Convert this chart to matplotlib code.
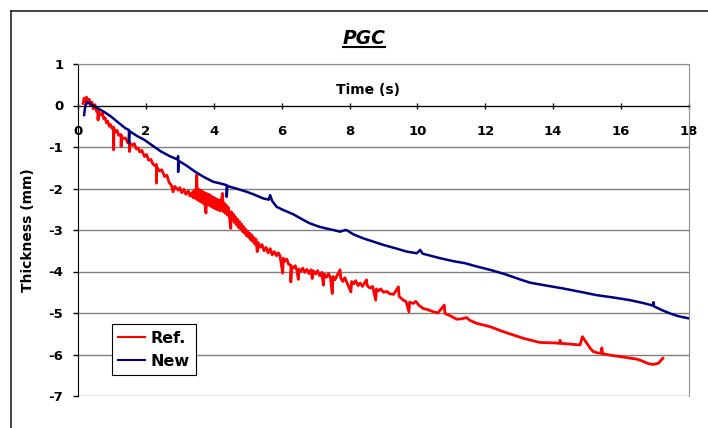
import matplotlib
matplotlib.use("Agg")
import matplotlib.pyplot as plt
from matplotlib.lines import Line2D
import numpy as np

plt.rcParams['font.family'] = ['DejaVu Sans']
plt.rcParams['font.weight'] = 'bold'
plt.rcParams['axes.unicode_minus'] = False

# Ref. series (red) as (time s, thickness mm); spikes kept as extra points
ref_pts = [
    (0.15, 0.05), (0.18, 0.18), (0.22, 0.08), (0.25, 0.20), (0.29, 0.06), (0.33, 0.15),
    (0.37, 0.00), (0.41, 0.08), (0.45, -0.08), (0.50, 0.02), (0.55, -0.15), (0.59, -0.12),
    (0.59, -0.35), (0.60, -0.14), (0.64, -0.20), (0.68, -0.23), (0.72, -0.18), (0.76, -0.32),
    (0.80, -0.30), (0.84, -0.42), (0.88, -0.38), (0.92, -0.50), (0.96, -0.46), (1.00, -0.55),
    (1.05, -0.52), (1.05, -1.07), (1.06, -0.56), (1.10, -0.64), (1.15, -0.60), (1.20, -0.72),
    (1.27, -0.70), (1.27, -0.99), (1.28, -0.74), (1.33, -0.80), (1.40, -0.78), (1.47, -0.90),
    (1.52, -0.86), (1.52, -1.11), (1.53, -0.90), (1.60, -0.96), (1.66, -0.92), (1.72, -1.05),
    (1.77, -1.02), (1.82, -1.12), (1.88, -1.08), (1.96, -1.23), (2.02, -1.18), (2.08, -1.32),
    (2.15, -1.30), (2.20, -1.40), (2.26, -1.45), (2.31, -1.42), (2.31, -1.87), (2.32, -1.48),
    (2.40, -1.58), (2.47, -1.55), (2.55, -1.71), (2.62, -1.68), (2.68, -1.85), (2.75, -1.92),
    (2.80, -2.08), (2.85, -1.95), (2.95, -2.04), (3.00, -1.98), (3.06, -2.10), (3.12, -2.02),
    (3.18, -2.14), (3.25, -2.06), (3.30, -2.18), (3.36, -2.10), (3.39, -2.22), (3.42, -2.05),
    (3.45, -2.24), (3.48, -2.08), (3.50, -1.67), (3.51, -2.12), (3.53, -2.28), (3.55, -2.02),
    (3.58, -2.30), (3.60, -2.04), (3.62, -2.32), (3.64, -2.06), (3.66, -2.34), (3.68, -2.08),
    (3.70, -2.36), (3.72, -2.10), (3.74, -2.38), (3.77, -2.59), (3.79, -2.12), (3.81, -2.38),
    (3.83, -2.14), (3.85, -2.40), (3.87, -2.15), (3.90, -2.42), (3.92, -2.18), (3.94, -2.44),
    (3.96, -2.20), (3.98, -2.46), (4.00, -2.22), (4.03, -2.48), (4.05, -2.24), (4.08, -2.50),
    (4.10, -2.26), (4.13, -2.52), (4.16, -2.28), (4.19, -2.54), (4.22, -2.30), (4.26, -2.12),
    (4.28, -2.56), (4.31, -2.36), (4.34, -2.60), (4.37, -2.40), (4.40, -2.64), (4.43, -2.46),
    (4.46, -2.68), (4.50, -2.96), (4.52, -2.56), (4.55, -2.76), (4.58, -2.62), (4.61, -2.82),
    (4.64, -2.68), (4.67, -2.88), (4.70, -2.74), (4.73, -2.94), (4.76, -2.80), (4.79, -2.98),
    (4.82, -2.86), (4.85, -3.04), (4.88, -2.92), (4.91, -3.08), (4.94, -2.98), (4.97, -3.14),
    (5.00, -3.04), (5.03, -3.18), (5.06, -3.08), (5.09, -3.24), (5.12, -3.12), (5.15, -3.28),
    (5.18, -3.18), (5.21, -3.34), (5.24, -3.22), (5.28, -3.52), (5.30, -3.30), (5.36, -3.42),
    (5.42, -3.35), (5.48, -3.50), (5.54, -3.42), (5.60, -3.55), (5.66, -3.45), (5.72, -3.60),
    (5.78, -3.52), (5.85, -3.62), (5.90, -3.55), (5.95, -3.62), (6.03, -4.04), (6.05, -3.68),
    (6.10, -3.75), (6.15, -3.70), (6.20, -3.82), (6.27, -3.85), (6.27, -4.25), (6.29, -3.88),
    (6.34, -3.92), (6.40, -3.86), (6.45, -3.98), (6.49, -4.19), (6.51, -3.94), (6.56, -4.00),
    (6.62, -3.92), (6.68, -4.02), (6.74, -3.95), (6.80, -4.05), (6.86, -3.96), (6.90, -4.17),
    (6.93, -3.98), (7.00, -4.06), (7.06, -3.98), (7.12, -4.10), (7.18, -4.02), (7.23, -4.33),
    (7.25, -4.06), (7.32, -4.14), (7.38, -4.05), (7.44, -4.16), (7.49, -4.53), (7.51, -4.12),
    (7.57, -4.20), (7.63, -4.10), (7.72, -3.96), (7.74, -4.16), (7.80, -4.24), (7.86, -4.15),
    (7.92, -4.26), (8.04, -4.49), (8.06, -4.24), (8.12, -4.30), (8.18, -4.22), (8.25, -4.34),
    (8.31, -4.28), (8.38, -4.36), (8.50, -4.20), (8.52, -4.34), (8.60, -4.40), (8.68, -4.36),
    (8.77, -4.69), (8.79, -4.42), (8.85, -4.47), (8.92, -4.42), (9.00, -4.50), (9.10, -4.48),
    (9.19, -4.54), (9.30, -4.55), (9.44, -4.37), (9.46, -4.60), (9.58, -4.69), (9.66, -4.72),
    (9.75, -4.97), (9.77, -4.74), (9.88, -4.77), (9.95, -4.72), (10.05, -4.82), (10.17, -4.89),
    (10.30, -4.92), (10.47, -4.97), (10.60, -5.00), (10.79, -4.81), (10.81, -5.01), (10.95, -5.06),
    (11.16, -5.15), (11.30, -5.14), (11.45, -5.11), (11.55, -5.18), (11.75, -5.25), (12.14, -5.33),
    (12.53, -5.45), (13.12, -5.61), (13.61, -5.71), (14.00, -5.72), (14.20, -5.73), (14.20, -5.66),
    (14.22, -5.73), (14.50, -5.75), (14.79, -5.77), (14.86, -5.57), (14.99, -5.73), (15.10, -5.86),
    (15.18, -5.93), (15.30, -5.96), (15.43, -5.97), (15.43, -5.84), (15.45, -5.98), (15.70, -6.02),
    (15.97, -6.05), (16.20, -6.08), (16.46, -6.11), (16.66, -6.17), (16.80, -6.22), (16.95, -6.24),
    (17.10, -6.21), (17.23, -6.09),
]

# New series (navy)
new_pts = [
    (0.18, -0.23), (0.20, -0.10), (0.22, 0.01), (0.28, 0.08), (0.34, 0.05), (0.45, 0.00),
    (0.59, -0.07), (0.78, -0.16), (0.98, -0.27), (1.20, -0.42), (1.40, -0.55), (1.50, -0.59),
    (1.50, -0.91), (1.52, -0.62), (1.75, -0.74), (1.96, -0.83), (2.20, -0.97), (2.45, -1.11),
    (2.70, -1.22), (2.93, -1.30), (2.95, -1.22), (2.95, -1.60), (2.96, -1.33), (3.20, -1.45),
    (3.44, -1.59), (3.70, -1.72), (3.99, -1.84), (4.20, -1.88), (4.38, -1.92), (4.38, -2.20),
    (4.40, -1.94), (4.70, -2.01), (4.97, -2.08), (5.20, -2.15), (5.46, -2.24), (5.62, -2.27),
    (5.66, -2.16), (5.72, -2.30), (5.85, -2.44), (6.05, -2.52), (6.34, -2.62), (6.60, -2.74),
    (6.83, -2.84), (7.10, -2.92), (7.30, -2.96), (7.52, -3.00), (7.72, -3.04), (7.88, -3.00),
    (7.95, -3.02), (8.10, -3.10), (8.40, -3.20), (8.70, -3.28), (9.00, -3.36), (9.35, -3.44),
    (9.68, -3.52), (9.98, -3.56), (10.08, -3.48), (10.15, -3.57), (10.67, -3.68), (11.05, -3.75),
    (11.40, -3.80), (11.75, -3.88), (12.14, -3.96), (12.60, -4.07), (13.02, -4.19), (13.32, -4.27),
    (13.80, -4.34), (14.30, -4.41), (14.80, -4.49), (15.28, -4.57), (15.80, -4.63), (16.26, -4.69),
    (16.65, -4.76), (16.93, -4.82), (16.95, -4.74), (16.97, -4.84), (17.20, -4.93), (17.44, -5.01),
    (17.70, -5.08), (18.00, -5.13),
]

x_ticks = [0, 2, 4, 6, 8, 10, 12, 14, 16, 18]
y_ticks = [-7, -6, -5, -4, -3, -2, -1, 0, 1]

ref = np.array(ref_pts)
new = np.array(new_pts)

fig = plt.figure(figsize=(7.08, 4.28), dpi=100)
ax = fig.add_axes([78/708, 1-396/428, 611/708, 332/428])

ax.plot(ref[:, 0], ref[:, 1], color='#FF0000', lw=2.0, label='Ref.')
ax.plot(new[:, 0], new[:, 1], color='#000080', lw=1.8, label='New')

ax.set_xlim(0, 18)
ax.set_ylim(-7, 1)
ax.set_xticks(x_ticks)
ax.set_yticks(y_ticks)
ax.grid(axis='y', color='#808080', lw=1)
ax.set_axisbelow(True)

ax.spines['bottom'].set_position(('data', 0))
ax.spines['bottom'].set_color('black')
ax.spines['left'].set_color('black')
ax.spines['top'].set_color('#909090')
ax.spines['right'].set_color('#909090')
ax.tick_params(axis='x', direction='inout', length=4, width=1, pad=12, labelsize=9.5)
ax.tick_params(axis='y', direction='out', length=3.6, width=1, pad=7, labelsize=9.5)

ax.text(8.55, 0.37, 'Time (s)', ha='center', va='center', fontsize=10, fontweight='bold')
fig.text(28/708, 0.5 * (1 - 64/428 + 1 - 396/428), 'Thickness (mm)', rotation=90,
         ha='center', va='center', fontsize=10, fontweight='bold')

title = fig.text(364/708, 1 - 38/428, 'PGC', ha='center', va='center', fontsize=13.5,
                 fontweight='bold', fontstyle='italic')

leg = ax.legend(loc='lower left', bbox_to_anchor=(34/611, 21/332), borderaxespad=0,
                fontsize=11.5, frameon=True, fancybox=False, edgecolor='black',
                framealpha=1, handlelength=1.65, handletextpad=0.35, borderpad=0.4,
                labelspacing=0.5)
leg.get_frame().set_linewidth(0.8)
for h in leg.get_lines():
    h.set_linewidth(1.5)

# underline under the title
fig.canvas.draw()
bb = title.get_window_extent().transformed(fig.transFigure.inverted())
fig.add_artist(Line2D([bb.x0, bb.x1], [bb.y0 + 0.002, bb.y0 + 0.002], transform=fig.transFigure,
                      color='black', lw=1.5))

# outer chart frame (only top and left visible in the crop)
fig.add_artist(Line2D([10.5/708, 1.0], [1 - 10.5/428, 1 - 10.5/428], transform=fig.transFigure,
                      color='#222222', lw=1.2))
fig.add_artist(Line2D([10.5/708, 10.5/708], [0.0, 1 - 10.5/428], transform=fig.transFigure,
                      color='#222222', lw=1.2))

fig.savefig('out.png', dpi=100)
